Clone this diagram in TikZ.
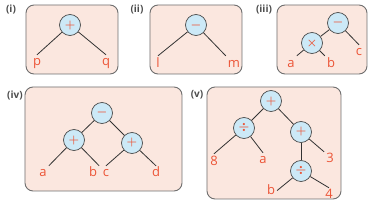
\documentclass[tikz,border=0pt]{standalone}
\usepackage{fontspec}
\setmainfont{Open Sans}
\usetikzlibrary{positioning}
\definecolor{boxfill}{RGB}{251,231,223}
\definecolor{boxline}{RGB}{110,110,110}
\definecolor{opfill}{RGB}{204,233,247}
\definecolor{symred}{RGB}{236,84,54}

\begin{document}
\begin{tikzpicture}[x=1pt, y=-1pt,
	panel/.style={draw=boxline, fill=boxfill, line width=0.9pt, rounded corners=8pt},
	op/.style={circle, draw=black!70, fill=opfill, line width=0.7pt, minimum size=21pt, inner sep=0pt, text=symred, font=\fontsize{12}{12}\selectfont\boldmath},
	leaf/.style={anchor=base, text=symred, font=\fontsize{13}{13}\selectfont, text height=9pt, text depth=2pt, inner sep=2pt},
	tag/.style={text=black!70, font=\fontsize{10}{10}\selectfont\bfseries},
	edge/.style={draw=black!80, line width=0.8pt}]
	\useasboundingbox (0,0) rectangle (368,206);
	% ---- (i) p + q ----
	\node[tag] (ti) at (11,9) {(i)};
	\draw[panel] (26,5) rectangle (118,74);
	\node[op] (i1) at (70,25) {$+$};
	\node[leaf] (ip) at (37,66) {p};
	\node[leaf] (iq) at (106,66) {q};
	\draw[edge] (i1) -- (ip.north);
	\draw[edge] (i1) -- (iq.north);
	% ---- (ii) l - m ----
	\node[tag] (tii) at (137,9) {(ii)};
	\draw[panel] (150,5) rectangle (242,74);
	\node[op] (ii1) at (196,25) {$-$};
	\node[leaf] (il) at (158,67) {l};
	\node[leaf] (im) at (234,67) {m};
	\draw[edge] (ii1) -- (il.north);
	\draw[edge] (ii1) -- (im.north west);
	% ---- (iii) a x b - c ----
	\node[tag] (tiii) at (264,9) {(iii)};
	\draw[panel] (277,5) rectangle (367,74);
	\node[op] (iii1) at (338,23) {$-$};
	\node[op] (iii2) at (312,43) {$\times$};
	\node[leaf] (iiia) at (291,67) {a};
	\node[leaf] (iiib) at (331,67) {b};
	\node[leaf] (iiic) at (359,56) {c};
	\draw[edge] (iii1) -- (iii2);
	\draw[edge] (iii1) -- (iiic.north);
	\draw[edge] (iii2) -- (iiia.north east);
	\draw[edge] (iii2) -- (iiib.north west);
	% ---- (iv) (a+b) - (c+d) ----
	\node[tag] (tiv) at (15,95) {(iv)};
	\draw[panel] (25,87) rectangle (182,191);
	\node[op] (iv1) at (102,113) {$-$};
	\node[op] (iv2) at (74,140) {$+$};
	\node[op] (iv3) at (132,143) {$+$};
	\node[leaf] (iva) at (43,177) {a};
	\node[leaf] (ivb) at (93,177) {b};
	\node[leaf] (ivc) at (106,177) {c};
	\node[leaf] (ivd) at (156,177) {d};
	\draw[edge] (iv1) -- (iv2);
	\draw[edge] (iv1) -- (iv3);
	\draw[edge] (iv2) -- (iva.north east);
	\draw[edge] (iv2) -- (ivb.north east);
	\draw[edge] (iv3) -- (ivc.north);
	\draw[edge] (iv3) -- (ivd.north);
	% ---- (v) 8/a + (b/4 + 3) ----
	\node[tag] (tv) at (197,95) {(v)};
	\draw[panel] (207,87) rectangle (341,199);
	\node[op] (v1) at (271,101) {$+$};
	\node[op] (v2) at (244,128) {$\div$};
	\node[op] (v3) at (301,132) {$+$};
	\node[op] (v4) at (301,171) {$\div$};
	\node[leaf] (v8) at (214,165) {8};
	\node[leaf] (va) at (263,164) {a};
	\node[leaf] (v3n) at (330,163) {3};
	\node[leaf] (vb) at (271,194) {b};
	\node[leaf] (v4n) at (329,199) {4};
	\draw[edge] (v1) -- (v2);
	\draw[edge] (v1) -- (v3);
	\draw[edge] (v2) -- (v8.north);
	\draw[edge] (v2) -- (va.north);
	\draw[edge] (v3) -- (v3n.north west);
	\draw[edge] (v3) -- (v4);
	\draw[edge] (v4) -- (vb.east);
	\draw[edge] (v4) -- (v4n.north);
\end{tikzpicture}
\end{document}
